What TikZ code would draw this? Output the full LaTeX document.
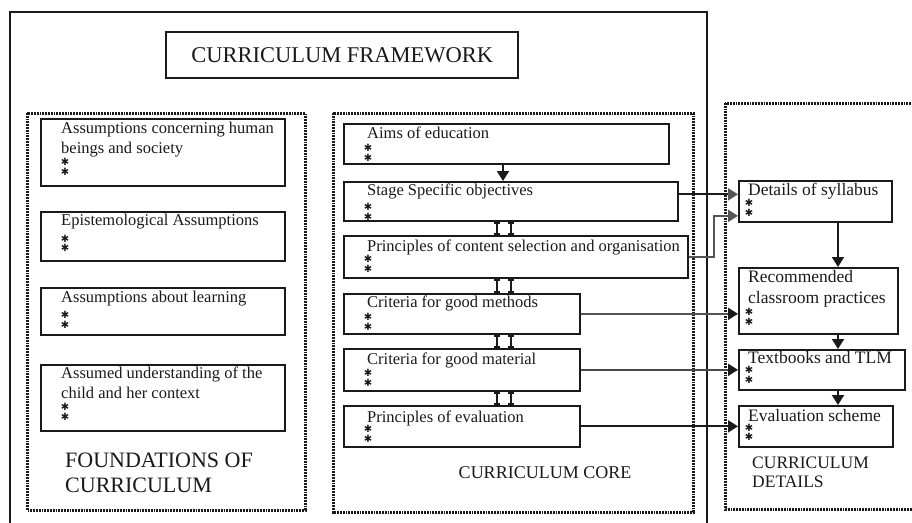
\documentclass[tikz,border=0pt]{standalone}
\usepackage{fontspec}
\setmainfont{Liberation Serif}
\newfontfamily\symf{DejaVu Sans}
\usetikzlibrary{arrows.meta,calc}
\definecolor{ink}{HTML}{1A1A1A}
\definecolor{lgrey}{HTML}{555555}
\begin{document}
\begin{tikzpicture}[x=1pt,y=-1pt,
  solidbox/.style={draw=ink,line width=1.7pt,inner sep=0pt,anchor=north west},
  dotframe/.style={draw=ink,line width=3pt,dash pattern=on 1.8pt off 1pt},
  ftxt/.style={anchor=base west,inner sep=0pt,align=left,text=ink,font=\fontsize{16.5}{20}\selectfont},
  dtxt/.style={anchor=base west,inner sep=0pt,align=left,text=ink,font=\fontsize{17.5}{21}\selectfont},
  bigtxt/.style={anchor=base west,inner sep=0pt,align=left,text=ink,font=\fontsize{22}{25}\selectfont},
  stars/.style={inner sep=0pt,align=center,text=ink,font=\symf\fontsize{10}{9.5}\selectfont},
  conn/.style={draw=ink,line width=1.8pt,-{Triangle[width=12pt,length=10pt]}},
  dbl/.style={draw=ink,line width=2pt,{Bar[width=6pt,line width=1.8pt]}-{Bar[width=6pt,line width=1.8pt]}}
]
\useasboundingbox (0,0) rectangle (912,522);
\clip (0,0) rectangle (912,522);
\fill[white] (0,0) rectangle (912,522);

% outer frame
\draw[ink,line width=2pt] (10,530) -- (10,12) -- (707,12) -- (707,530);

% title
\node (title) [solidbox,line width=2.4pt,minimum width=352pt,minimum height=46pt] at (165,31) {};
\node (titletxt) [text=ink,font=\fontsize{22.5}{25}\selectfont,inner sep=0pt] at (title.center) {CURRICULUM FRAMEWORK};

% dotted frames
\draw[dotframe] (27,113) rectangle (305,510);
\draw[dotframe] (333,113) rectangle (693,512);
\draw[dotframe] (725,103) rectangle (930,509);

% ---------- foundations ----------
\node (f1) [solidbox,minimum width=244pt,minimum height=67pt] at (40,118) {};
\node (f1t) [ftxt] at (61,153) {Assumptions concerning human\\beings and society};
\node (f1s) [stars] at (65,167) {✱\\✱};

\node (f2) [solidbox,minimum width=244pt,minimum height=49pt] at (40,211) {};
\node (f2t) [ftxt] at (61,225) {Epistemological Assumptions};
\node (f2s) [stars] at (65,243.5) {✱\\✱};

\node (f3) [solidbox,minimum width=244pt,minimum height=47pt] at (40,287) {};
\node (f3t) [ftxt] at (61,302) {Assumptions about learning};
\node (f3s) [stars] at (65,320) {✱\\✱};

\node (f4) [solidbox,minimum width=244pt,minimum height=66pt] at (40,364) {};
\node (f4t) [ftxt] at (61,398) {Assumed understanding of the\\child and her context};
\node (f4s) [stars] at (65,412) {✱\\✱};

\node (flab) [bigtxt] at (65,492) {FOUNDATIONS OF\\CURRICULUM};

% ---------- core ----------
\node (c1) [solidbox,minimum width=325pt,minimum height=40pt] at (343,123) {};
\node (c1t) [ftxt] at (367,138) {Aims of education};
\node (c1s) [stars] at (368,153) {✱\\✱};

\node (c2) [solidbox,minimum width=334pt,minimum height=39pt] at (343,181) {};
\node (c2t) [ftxt] at (367,195) {Stage Specific objectives};
\node (c2s) [stars] at (368,212) {✱\\✱};

\node (c3) [solidbox,minimum width=344pt,minimum height=42pt] at (343,235) {};
\node (c3t) [ftxt] at (367,251) {Principles of content selection and organisation};
\node (c3s) [stars] at (368,264) {✱\\✱};

\node (c4) [solidbox,minimum width=236pt,minimum height=40pt] at (343,293) {};
\node (c4t) [ftxt] at (367,307) {Criteria for good methods};
\node (c4s) [stars] at (368,322) {✱\\✱};

\node (c5) [solidbox,minimum width=236pt,minimum height=42pt] at (343,348) {};
\node (c5t) [ftxt] at (367,364) {Criteria for good material};
\node (c5s) [stars] at (368,378) {✱\\✱};

\node (c6) [solidbox,minimum width=236pt,minimum height=41pt] at (343,405) {};
\node (c6t) [ftxt] at (367,422) {Principles of evaluation};
\node (c6s) [stars] at (368,434) {✱\\✱};

\node (clab) [text=ink,inner sep=0pt,anchor=base,font=\fontsize{18}{21}\selectfont] at (545,478) {CURRICULUM CORE};

% ---------- details ----------
\node (d1) [solidbox,minimum width=153pt,minimum height=41pt] at (738,180) {};
\node (d1t) [dtxt] at (748,195) {Details of syllabus};
\node (d1s) [stars] at (749,208) {✱\\✱};

\node (d2) [solidbox,minimum width=159pt,minimum height=66pt] at (738,267) {};
\node (d2t) [dtxt] at (748,303) {Recommended\\classroom practices};
\node (d2s) [stars] at (749,317) {✱\\✱};

\node (d3) [solidbox,minimum width=166pt,minimum height=40pt] at (738,349) {};
\node (d3t) [dtxt] at (748,363) {Textbooks and TLM};
\node (d3s) [stars] at (749,375) {✱\\✱};

\node (d4) [solidbox,minimum width=154pt,minimum height=41pt] at (738,405) {};
\node (d4t) [dtxt] at (748,421) {Evaluation scheme};
\node (d4s) [stars] at (749,432.5) {✱\\✱};

\node (dlab) [text=ink,inner sep=0pt,anchor=base west,align=left,font=\fontsize{17.5}{19}\selectfont] at (752,487) {CURRICULUM\\DETAILS};

% ---------- connectors ----------
\coordinate (xm) at (503,0);
\coordinate (xl) at (497,0);
\coordinate (xr) at (511,0);
\coordinate (xk) at (714,0);
\coordinate (xd) at (838,0);

\draw[conn] (c1.south -| xm) -- (c2.north -| xm);
\foreach \a/\b in {c2/c3,c3/c4,c4/c5,c5/c6}{
  \draw[dbl] (\a.south -| xl) -- (\b.north -| xl);
  \draw[dbl] (\a.south -| xr) -- (\b.north -| xr);
}

\draw[draw=ink,line width=1.8pt,-{Triangle[width=12pt,length=10pt,fill=lgrey,color=lgrey]}]
  ([yshift=7pt]c2.east) -- ([yshift=7pt]c2.east -| d1.west);
\draw[conn,draw=lgrey] (c3.east) -- (c3.east -| xk) |- ([yshift=-14.5pt]d1.west);
\draw[conn,draw=lgrey,-{Triangle[width=12pt,length=10pt,color=ink]}] (c4.east) -- (c4.east -| d2.west);
\draw[conn,draw=lgrey!80!ink,-{Triangle[width=12pt,length=10pt,color=ink]}] (c5.east) -- (c5.east -| d3.west);
\draw[conn] (c6.east) -- (c6.east -| d4.west);

\draw[conn] (d1.south -| xd) -- (d2.north -| xd);
\draw[conn] (d2.south -| xd) -- (d3.north -| xd);
\draw[conn] (d3.south -| xd) -- (d4.north -| xd);
\end{tikzpicture}
\end{document}
